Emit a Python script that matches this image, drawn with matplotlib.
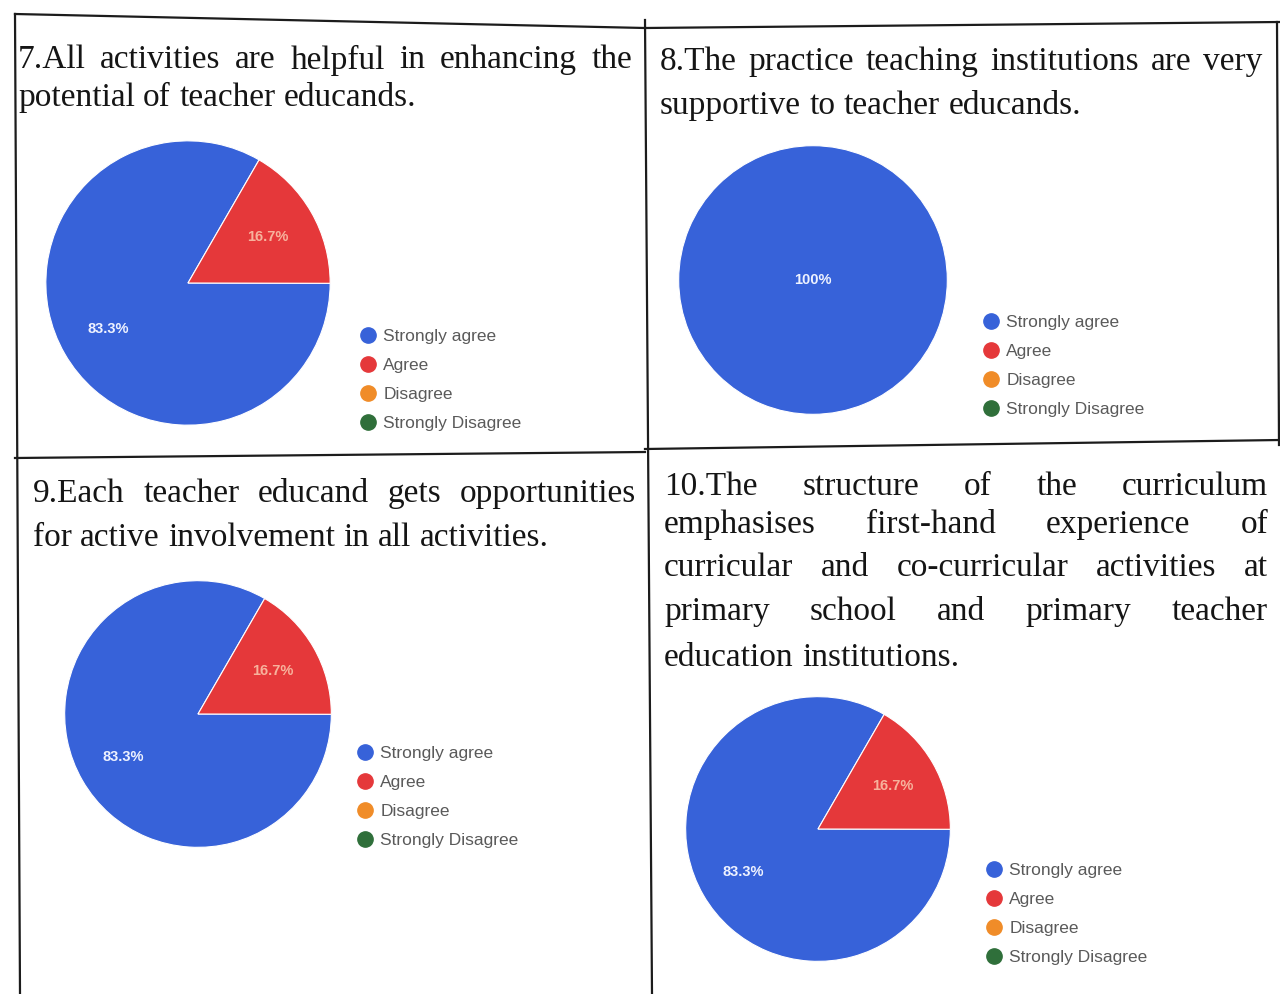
import matplotlib
matplotlib.use('Agg')
import matplotlib.pyplot as plt
from matplotlib.lines import Line2D

# data
categories = ['Strongly agree', 'Agree', 'Disagree', 'Strongly Disagree']
q7_values = [83.3, 16.7, 0, 0]
q8_values = [100, 0, 0, 0]
q9_values = [83.3, 16.7, 0, 0]
q10_values = [83.3, 16.7, 0, 0]

q7_title = ['7.All activities are helpful in enhancing the',
            'potential of teacher educands.']
q8_title = ['8.The practice teaching institutions are very',
            'supportive to teacher educands.']
q9_title = ['9.Each teacher educand gets opportunities',
            'for active involvement in all activities.']
q10_title = ['10.The structure of the curriculum',
             'emphasises first-hand experience of',
             'curricular and co-curricular activities at',
             'primary school and primary teacher',
             'education institutions.']

colors = ['#3762d9', '#e5383a', '#f08c28', '#2f6f3a']
TITLE_SIZE = 24

W, H = 1280, 994
fig = plt.figure(figsize=(W / 100, H / 100), dpi=100)
fig.patch.set_facecolor('white')
renderer = fig.canvas.get_renderer()


def fx(x):
    return x / W


def fy(y):
    return 1 - y / H


def text_width(s):
    t = fig.text(0, 0, s, family='Liberation Serif', fontsize=TITLE_SIZE)
    w = t.get_window_extent(renderer).width
    t.remove()
    return w


def draw_title(lines, x0, x1, ys):
    # justified lines like the typeset page, last line left aligned
    space = text_width('a a') - 2 * text_width('a')
    for i, (line, y) in enumerate(zip(lines, ys)):
        words = line.split()
        texts = [fig.text(0, 0, w, family='Liberation Serif', fontsize=TITLE_SIZE,
                          color='#151515', va='center', ha='left') for w in words]
        widths = [t.get_window_extent(renderer).width for t in texts]
        if i == len(lines) - 1:
            gap = space
        else:
            gap = (x1 - x0 - sum(widths)) / (len(words) - 1)
        x = x0
        for t, w in zip(texts, widths):
            t.set_position((fx(x), fy(y)))
            x += w + gap


def draw_pie(values, cx, cy, r, startangle, pctdistance, legend_xy):
    ax = fig.add_axes([fx(cx - r), fy(cy + r), 2 * r / W, 2 * r / H])
    vals = [v for v in values if v > 0]
    cols = [c for v, c in zip(values, colors) if v > 0]

    def fmt(p):
        return '100%' if p > 99.9 else f'{p:.1f}%'

    wedges, _, autotexts = ax.pie(vals, colors=cols, startangle=startangle,
                                  autopct=fmt, pctdistance=pctdistance,
                                  wedgeprops=dict(edgecolor='white', linewidth=0.8))
    for t, c in zip(autotexts, cols):
        t.set_color('#eef2ff' if c == colors[0] else '#f7b29c')
        t.set_fontsize(10.5)
        t.set_fontweight('bold')
        t.set_family('Liberation Sans')
    ax.set_xlim(-1.02, 1.02)
    ax.set_ylim(-1.02, 1.02)
    ax.set_aspect('equal')
    ax.axis('off')

    handles = [Line2D([], [], marker='o', ls='', color=c, markersize=11) for c in colors]
    fig.legend(handles, categories, loc='upper left',
               bbox_to_anchor=(fx(legend_xy[0]), fy(legend_xy[1])),
               bbox_transform=fig.transFigure, frameon=False,
               prop={'family': 'Liberation Sans', 'size': 12.5},
               labelcolor='#5a5a5a', handlelength=0.9, handletextpad=0.45,
               labelspacing=0.79, borderpad=0, borderaxespad=0)


draw_title(q7_title, 18, 632, [60, 98])
draw_title(q8_title, 660, 1262, [62, 106])
draw_title(q9_title, 33, 636, [494, 538])
draw_title(q10_title, 664, 1268, [487, 525, 568, 612, 658])

draw_pie(q7_values, 188, 283, 145, 60, 0.65, (360, 329))
draw_pie(q8_values, 813, 280, 137, 90, 0.0, (983, 315))
draw_pie(q9_values, 198, 714, 136, 60, 0.65, (357, 746))
draw_pie(q10_values, 818, 829, 135, 60, 0.65, (986, 863))

# table borders of the scanned page
border = [((15, 14), (645, 28)), ((645, 28), (1280, 22)),
          ((15, 14), (20, 994)), ((645, 20), (652, 994)),
          ((1277, 22), (1279, 445)),
          ((15, 458), (645, 452)), ((645, 449), (1280, 440))]
for (x0, y0), (x1, y1) in border:
    fig.add_artist(Line2D([fx(x0), fx(x1)], [fy(y0), fy(y1)],
                          color='#1c1c1c', linewidth=1.6))

fig.savefig('out.png', dpi=100, facecolor='white')
